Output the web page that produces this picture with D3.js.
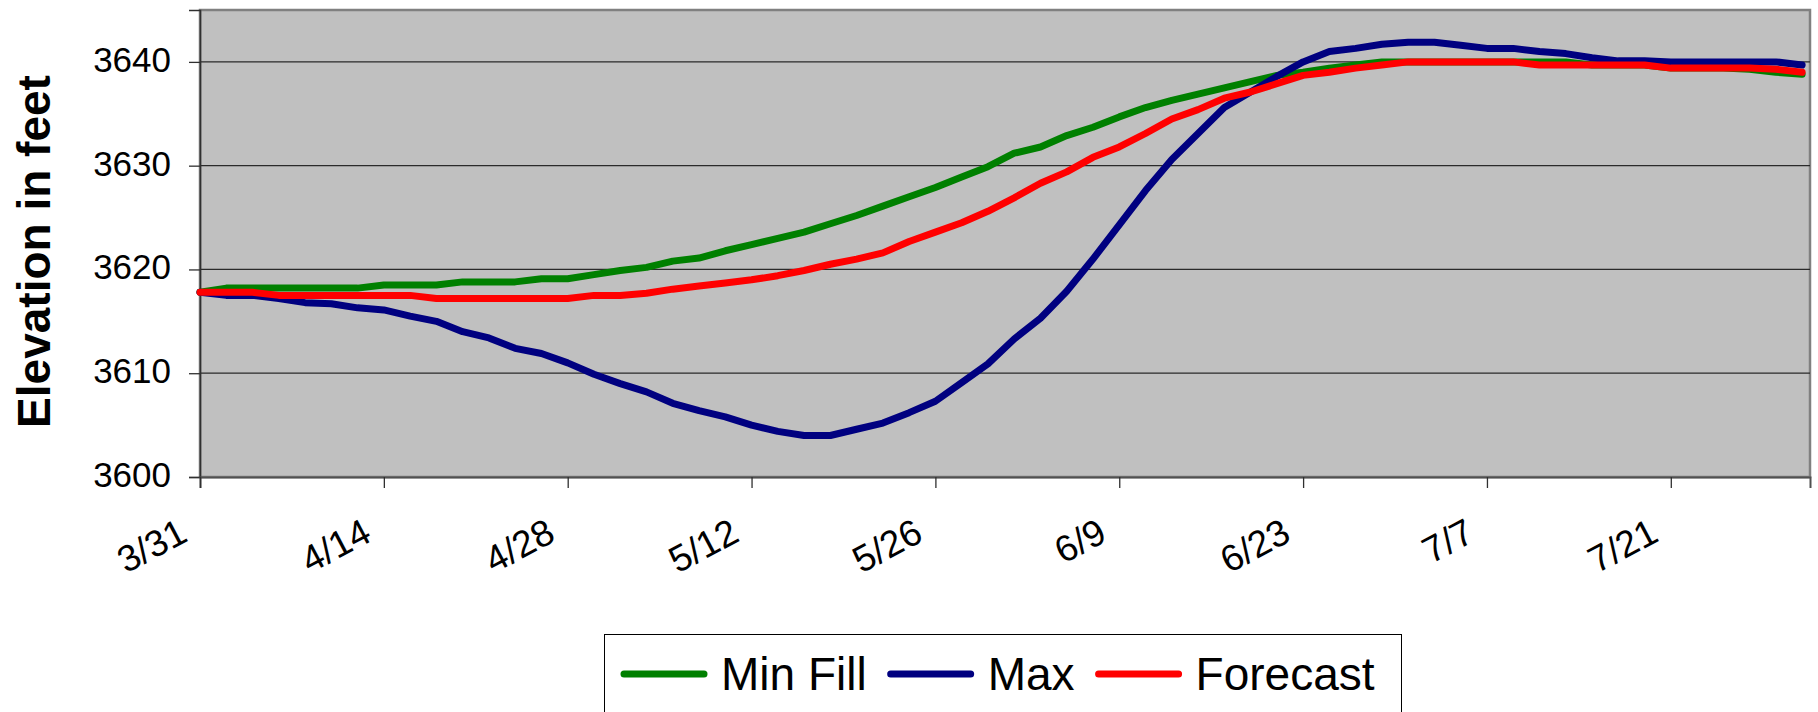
<!DOCTYPE html>
<html><head><meta charset="utf-8">
<script src="https://cdn.jsdelivr.net/npm/d3@7"></script>
<style>
html,body{margin:0;padding:0;background:#fff;}
svg{display:block;font-family:"Liberation Sans",Arial,Helvetica,sans-serif;}
</style>
</head><body>
<svg id="chart" width="1818" height="712"></svg>
<script>
// ---------- data ----------
const dates = ["3/31","4/2","4/4","4/6","4/8","4/10","4/12","4/14","4/16","4/18","4/20","4/22","4/24","4/26","4/28","4/30",
  "5/2","5/4","5/6","5/8","5/10","5/12","5/14","5/16","5/18","5/20","5/22","5/24","5/26","5/28","5/30",
  "6/1","6/3","6/5","6/7","6/9","6/11","6/13","6/15","6/17","6/19","6/21","6/23","6/25","6/27","6/29",
  "7/1","7/3","7/5","7/7","7/9","7/11","7/13","7/15","7/17","7/19","7/21","7/23","7/25","7/27","7/29","7/31"];
const minFill = [3617.8,3618.2,3618.2,3618.2,3618.2,3618.2,3618.2,3618.5,3618.5,3618.5,3618.8,3618.8,3618.8,3619.1,3619.1,3619.5,
  3619.9,3620.2,3620.8,3621.1,3621.8,3622.4,3623.0,3623.6,3624.4,3625.2,3626.1,3627.0,3627.9,3628.9,3629.9,
  3631.2,3631.8,3632.9,3633.7,3634.7,3635.6,3636.3,3636.9,3637.5,3638.1,3638.7,3639.0,3639.4,3639.7,3640.0,
  3640.0,3640.0,3640.0,3640.0,3640.0,3640.0,3640.0,3639.7,3639.7,3639.7,3639.4,3639.4,3639.4,3639.3,3639.0,3638.8];
const maxVals = [3617.8,3617.5,3617.5,3617.2,3616.8,3616.7,3616.3,3616.1,3615.5,3615.0,3614.0,3613.4,3612.4,3611.9,3611.0,3609.9,
  3609.0,3608.2,3607.1,3606.4,3605.8,3605.0,3604.4,3604.0,3604.0,3604.6,3605.2,3606.2,3607.3,3609.1,3610.9,
  3613.3,3615.3,3617.9,3621.0,3624.3,3627.6,3630.6,3633.1,3635.6,3637.1,3638.6,3640.0,3641.0,3641.3,3641.7,
  3641.9,3641.9,3641.6,3641.3,3641.3,3641.0,3640.8,3640.4,3640.1,3640.1,3640.0,3640.0,3640.0,3640.0,3640.0,3639.7];
const forecast = [3617.8,3617.8,3617.8,3617.5,3617.5,3617.5,3617.5,3617.5,3617.5,3617.2,3617.2,3617.2,3617.2,3617.2,3617.2,3617.5,
  3617.5,3617.7,3618.1,3618.4,3618.7,3619.0,3619.4,3619.9,3620.5,3621.0,3621.6,3622.7,3623.6,3624.5,3625.6,
  3626.9,3628.3,3629.4,3630.8,3631.8,3633.1,3634.5,3635.4,3636.5,3637.1,3637.9,3638.7,3639.0,3639.4,3639.7,
  3640.0,3640.0,3640.0,3640.0,3640.0,3639.7,3639.7,3639.7,3639.7,3639.7,3639.4,3639.4,3639.4,3639.4,3639.3,3639.0];
const seriesNames = ["Min Fill","Max","Forecast"];
const seriesColors = ["#008000","#000080","#FF0000"];
const xTickLabels = ["3/31","4/14","4/28","5/12","5/26","6/9","6/23","7/7","7/21"];
const yTicks = [3600,3610,3620,3630,3640];
const yGrid = [3610,3620,3630,3640];
const yDomain = [3600,3645];
const yTitle = "Elevation in feet";
const year = 2007;
const axisDays = 122.6;

// ---------- setup ----------
const parse = s => { const [m,d] = s.split("/").map(Number); return new Date(Date.UTC(year, m-1, d)); };
const svg = d3.select("#chart");
const W = 1818, H = 712;
const m = {left:200, top:10, right:8, bottom:235};
const x0 = parse(dates[0]);
const x = d3.scaleUtc()
  .domain([x0, new Date(x0.getTime() + axisDays*864e5)])
  .range([m.left, W - m.right]);
const y = d3.scaleLinear().domain(yDomain).range([H - m.bottom, m.top]);

const series = [minFill, maxVals, forecast].map((vals,i) => ({
  name: seriesNames[i], color: seriesColors[i],
  pts: dates.map((d,j) => ({date: parse(d), v: vals[j]}))
}));

// plot background
svg.append("rect")
  .attr("x", m.left).attr("y", m.top)
  .attr("width", W - m.right - m.left).attr("height", H - m.bottom - m.top)
  .attr("fill", "#C0C0C0").attr("stroke", "#808080").attr("stroke-width", 2.5);

// gridlines
svg.append("g").selectAll("line").data(yGrid).join("line")
  .attr("x1", m.left).attr("x2", W - m.right)
  .attr("y1", d => y(d)).attr("y2", d => y(d))
  .attr("stroke", "#2a2a2a").attr("stroke-width", 1.2);

// y axis
const yAxis = d3.axisLeft(y).tickValues(yTicks).tickSize(11).tickPadding(18).tickFormat(d3.format("d"));
const gy = svg.append("g").attr("transform", `translate(${m.left},0)`).call(yAxis);
gy.select(".domain").attr("stroke", "#303030").attr("stroke-width", 1.6);
gy.selectAll(".tick line").attr("stroke", "#303030").attr("stroke-width", 1.3);
gy.selectAll(".tick text").attr("font-size", 35).attr("fill", "#000")
  .attr("font-family", '"Liberation Sans",Arial,sans-serif')
  .attr("dy", null).attr("dominant-baseline", "auto").attr("y", 9.5);

// x axis
const xAxis = d3.axisBottom(x).tickValues(xTickLabels.map(parse)).tickSize(11)
  .tickFormat((d,i) => xTickLabels[i]);
const gx = svg.append("g").attr("transform", `translate(0,${H - m.bottom})`).call(xAxis);
gx.select(".domain").attr("stroke", "#505050").attr("stroke-width", 2);
gx.selectAll(".tick line").attr("stroke", "#303030").attr("stroke-width", 1.3);
gx.selectAll(".tick text").attr("font-size", 37).attr("fill", "#000")
  .attr("font-family", '"Liberation Sans",Arial,sans-serif')
  .attr("text-anchor", "end").attr("dy", null).attr("y", null)
  .attr("transform", "translate(-11,63) rotate(-28)");

// y title
svg.append("text")
  .attr("transform", `translate(50,${(m.top + H - m.bottom)/2 + 8}) rotate(-90)`)
  .attr("text-anchor", "middle").attr("font-size", 46).attr("font-weight", "bold")
  .attr("fill", "#000").text(yTitle);

// lines
const line = d3.line().x(d => x(d.date)).y(d => y(d.v));
svg.append("g").selectAll("path").data(series).join("path")
  .attr("d", d => line(d.pts))
  .attr("fill", "none").attr("stroke", d => d.color).attr("stroke-width", 7)
  .attr("stroke-linejoin", "round").attr("stroke-linecap", "round");

// legend
const lg = svg.append("g");
lg.append("rect").attr("x", 604.5).attr("y", 634.5).attr("width", 797).attr("height", 120)
  .attr("fill", "#fff").attr("stroke", "#000").attr("stroke-width", 1);
let lx = 621;
series.forEach(s => {
  lg.append("line").attr("x1", lx + 3).attr("x2", lx + 83).attr("y1", 674).attr("y2", 674)
    .attr("stroke", s.color).attr("stroke-width", 7).attr("stroke-linecap", "round");
  const t = lg.append("text").attr("x", lx + 100).attr("y", 690).attr("font-size", 46)
    .attr("fill", "#000").text(s.name);
  lx = lx + 100 + t.node().getComputedTextLength() + 21;
});
</script>
</body></html>
